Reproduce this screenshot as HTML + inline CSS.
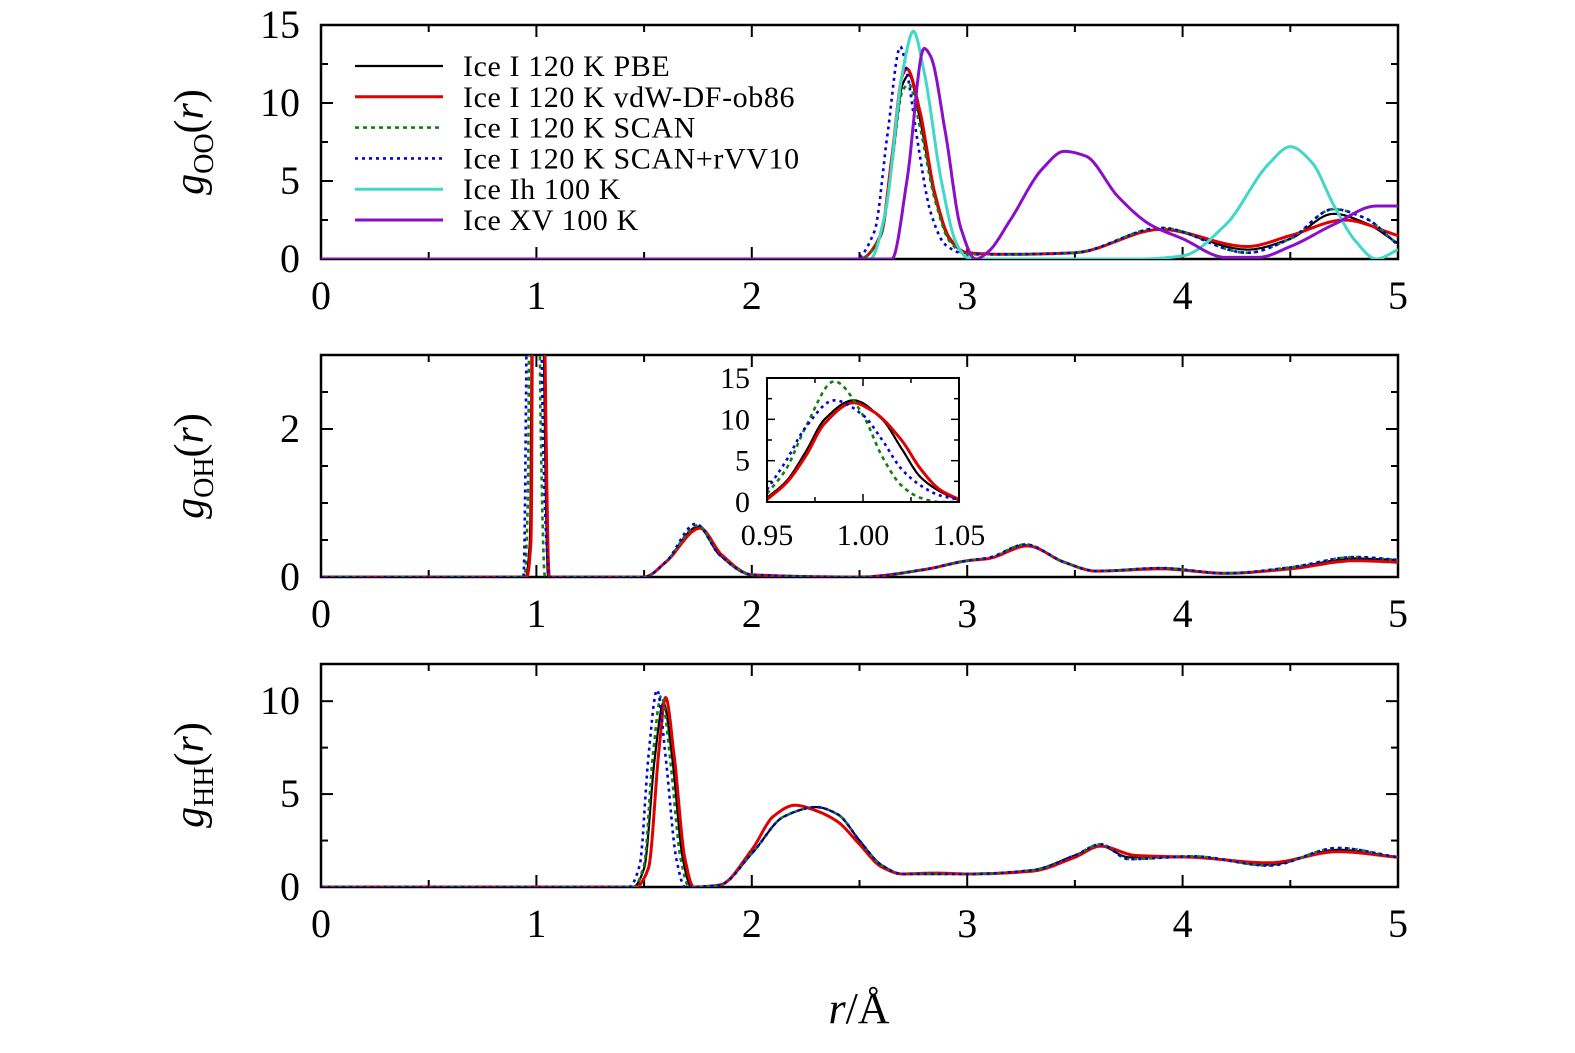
<!DOCTYPE html>
<html><head><meta charset="utf-8"><style>
body{margin:0;background:#fff}
svg{display:block;font-family:"Liberation Serif",serif}
</style></head><body>
<svg id="chart" width="1575" height="1053" viewBox="0 0 1575 1053">
<defs>
<clipPath id="c1"><rect x="321" y="25" width="1077" height="234"/></clipPath>
<clipPath id="c2"><rect x="321" y="355" width="1077" height="222"/></clipPath>
<clipPath id="c3"><rect x="321" y="664" width="1077" height="223"/></clipPath>
<clipPath id="c4"><rect x="767" y="378" width="192" height="124"/></clipPath>
</defs>
<g id="layer"></g>
</svg>
<script>
// ---- data ----
const seriesNames = ["Ice I 120 K PBE","Ice I 120 K vdW-DF-ob86","Ice I 120 K SCAN","Ice I 120 K SCAN+rVV10","Ice Ih 100 K","Ice XV 100 K"];
const xTicks = [0,1,2,3,4,5];
const ooTicks = [0,5,10,15];
const ohTicks = [0,2];
const hhTicks = [0,5,10];
const insetXTicks = [0.95,1.00,1.05];
const insetXLabels = ["0.95","1.00","1.05"];
const insetYTicks = [0,5,10,15];

const ooPBE = [[0,0],[2.5,0],[2.6,1.5],[2.65,6],[2.7,11.2],[2.73,11.8],[2.78,9],[2.85,4],[2.92,1.2],[3.0,0.4],[3.2,0.3],[3.5,0.4],[3.9,1.9],[4.3,0.6],[4.5,1.3],[4.7,2.9],[4.85,2.3],[5,1.0]];
const ooVDW = [[0,0],[2.5,0],[2.6,1.6],[2.65,6.5],[2.7,11.8],[2.72,12.2],[2.78,9.5],[2.85,4.2],[2.92,1.3],[3.0,0.4],[3.2,0.3],[3.5,0.4],[3.9,1.9],[4.3,0.8],[4.5,1.5],[4.75,2.5],[5,1.5]];
const ooSCAN = [[0,0],[2.5,0],[2.6,1.5],[2.65,6],[2.7,10.8],[2.73,11.2],[2.78,8.5],[2.85,3.8],[2.92,1.1],[3.0,0.3],[3.2,0.3],[3.5,0.4],[3.9,2.0],[4.3,0.4],[4.5,1.3],[4.7,3.2],[4.85,2.6],[5,0.9]];
const ooRVV = [[0,0],[2.48,0],[2.57,1.8],[2.63,8],[2.69,13.6],[2.72,12],[2.77,7.5],[2.83,3],[2.9,0.9],[3.0,0.3],[3.2,0.3],[3.5,0.4],[3.9,2.0],[4.3,0.4],[4.5,1.3],[4.7,3.2],[4.85,2.6],[5,0.9]];
const ooIh = [[0,0],[2.55,0],[2.62,3],[2.7,12],[2.75,14.6],[2.8,12],[2.88,5],[2.95,1],[3.0,0.1],[3.05,0],[3.8,0],[4.0,0.2],[4.2,2.2],[4.4,6.1],[4.5,7.2],[4.6,6.2],[4.7,3.5],[4.8,1.2],[4.9,0],[5,0.6]];
const ooXV = [[0,0],[2.65,0],[2.72,5],[2.8,13.5],[2.83,13],[2.9,8],[2.97,2],[3.04,0],[3.1,0.5],[3.2,2.5],[3.35,5.8],[3.45,6.9],[3.55,6.6],[3.7,4],[3.85,2.2],[4.0,1.3],[4.2,0.1],[4.35,0.1],[4.5,0.8],[4.7,2.2],[4.9,3.4],[5,3.4]];

const ohPBE = [[0,0],[0.95,0],[0.97,0.5],[0.99,10],[1.0,12],[1.02,10],[1.035,3],[1.055,0],[1.5,0],[1.6,0.2],[1.75,0.68],[1.85,0.3],[2.0,0.03],[2.5,0],[2.8,0.1],[3.0,0.22],[3.1,0.25],[3.27,0.43],[3.45,0.2],[3.6,0.08],[3.9,0.12],[4.2,0.05],[4.5,0.12],[4.8,0.25],[5,0.23]];
const ohVDW = [[0,0],[0.955,0],[0.975,0.5],[0.99,9.5],[1.0,12],[1.02,10.5],[1.04,3],[1.06,0],[1.5,0],[1.6,0.2],[1.76,0.66],[1.86,0.3],[2.0,0.03],[2.5,0],[2.8,0.1],[3.0,0.22],[3.1,0.25],[3.28,0.42],[3.45,0.2],[3.6,0.08],[3.9,0.11],[4.2,0.05],[4.5,0.11],[4.8,0.22],[5,0.2]];
const ohSCAN = [[0,0],[0.945,0],[0.96,1],[0.985,14.6],[1.0,10.5],[1.02,2],[1.04,0],[1.5,0],[1.6,0.2],[1.75,0.7],[1.85,0.3],[2.0,0.03],[2.5,0],[2.8,0.1],[3.0,0.22],[3.1,0.26],[3.27,0.44],[3.45,0.2],[3.6,0.08],[3.9,0.12],[4.2,0.05],[4.5,0.13],[4.8,0.27],[5,0.23]];
const ohRVV = [[0,0],[0.94,0],[0.96,5],[0.985,12.3],[1.01,7.5],[1.03,2],[1.05,0.3],[1.06,0],[1.5,0],[1.6,0.2],[1.74,0.72],[1.85,0.3],[2.0,0.03],[2.5,0],[2.8,0.1],[3.0,0.22],[3.1,0.26],[3.27,0.44],[3.45,0.2],[3.6,0.08],[3.9,0.12],[4.2,0.05],[4.5,0.13],[4.8,0.27],[5,0.23]];

const inPBE = [[0.95,0.5],[0.96,2.5],[0.97,6],[0.98,10],[0.995,12.3],[1.01,10],[1.02,6.5],[1.03,3],[1.04,1.3],[1.05,0.2]];
const inVDW = [[0.95,0.3],[0.96,2.3],[0.97,5.5],[0.98,9.5],[0.995,12.0],[1.005,11],[1.02,7.5],[1.03,4],[1.04,1.5],[1.05,0.3]];
const inSCAN = [[0.95,1],[0.96,4],[0.97,9],[0.985,14.6],[1.0,10.5],[1.01,5.5],[1.02,2],[1.03,0.5],[1.04,0],[1.05,0]];
const inRVV = [[0.95,1.5],[0.96,5],[0.97,9],[0.985,12.3],[1.0,10.5],[1.01,7.5],[1.02,4],[1.03,2],[1.04,0.8],[1.05,0.3]];

const hhPBE = [[0,0],[1.45,0],[1.5,1],[1.55,7],[1.59,9.9],[1.63,7],[1.68,1.5],[1.72,0],[1.85,0.1],[2.0,1.8],[2.15,3.8],[2.3,4.3],[2.4,3.9],[2.5,2.5],[2.6,1.2],[2.7,0.7],[3.0,0.7],[3.3,0.9],[3.5,1.7],[3.62,2.2],[3.75,1.6],[4.05,1.6],[4.4,1.2],[4.72,2.0],[5,1.6]];
const hhVDW = [[0,0],[1.46,0],[1.52,1],[1.57,7.5],[1.6,10.2],[1.64,7],[1.69,1.5],[1.73,0],[1.85,0.1],[2.0,2.0],[2.1,3.8],[2.2,4.4],[2.3,4.1],[2.4,3.5],[2.5,2.3],[2.6,1.1],[2.7,0.7],[2.85,0.75],[3.0,0.7],[3.3,0.85],[3.5,1.6],[3.62,2.2],[3.78,1.7],[4.05,1.6],[4.4,1.3],[4.72,1.9],[5,1.6]];
const hhSCAN = [[0,0],[1.45,0],[1.5,1.2],[1.54,7],[1.58,10.3],[1.62,7],[1.67,1.5],[1.71,0],[1.85,0.1],[2.0,1.8],[2.15,3.8],[2.3,4.3],[2.4,3.9],[2.5,2.5],[2.6,1.2],[2.7,0.7],[3.0,0.7],[3.3,0.9],[3.5,1.7],[3.62,2.3],[3.75,1.5],[4.05,1.65],[4.4,1.15],[4.72,2.1],[5,1.6]];
const hhRVV = [[0,0],[1.43,0],[1.48,1.2],[1.52,7],[1.56,10.6],[1.6,7],[1.65,1.5],[1.69,0],[1.85,0.1],[2.0,1.8],[2.15,3.8],[2.3,4.3],[2.4,3.9],[2.5,2.5],[2.6,1.2],[2.7,0.7],[3.0,0.7],[3.3,0.9],[3.5,1.7],[3.62,2.3],[3.75,1.5],[4.05,1.65],[4.4,1.15],[4.72,2.1],[5,1.6]];

// ---- rendering ----
const NS="http://www.w3.org/2000/svg";
const layer=document.getElementById('layer');
function mk(t,a,p){const e=document.createElementNS(NS,t);for(const k in a)e.setAttribute(k,a[k]);(p||layer).appendChild(e);return e;}
const X0=321,X1=1398;
const xs=r=>X0+(X1-X0)*r/5;
const styles=[
 {c:"#000",w:2.2,d:null},{c:"#e00000",w:3,d:null},{c:"#108010",w:2.6,d:"4 4"},{c:"#0000e0",w:2.6,d:"3 4"},{c:"#40d8c8",w:3,d:null},{c:"#8a10c8",w:3,d:null}];
// monotone cubic (Fritsch-Carlson) in x
function pathD(pts,fx,fy){
 const n=pts.length,x=pts.map(p=>p[0]),y=pts.map(p=>p[1]);
 const dl=[],m=new Array(n);
 for(let i=0;i<n-1;i++)dl.push((y[i+1]-y[i])/(x[i+1]-x[i]));
 m[0]=dl[0];m[n-1]=dl[n-2];
 for(let i=1;i<n-1;i++){ if(dl[i-1]*dl[i]<=0)m[i]=0; else {const h0=x[i]-x[i-1],h1=x[i+1]-x[i];
   m[i]=3*(h0+h1)/((2*h1+h0)/dl[i-1]+(h1+2*h0)/dl[i]);}}
 let d="M"+fx(x[0]).toFixed(1)+","+fy(y[0]).toFixed(1);
 for(let i=0;i<n-1;i++){const h=x[i+1]-x[i];
  for(let k=1;k<=12;k++){const t=k/12,t2=t*t,t3=t2*t;
   const v=(2*t3-3*t2+1)*y[i]+(t3-2*t2+t)*h*m[i]+(-2*t3+3*t2)*y[i+1]+(t3-t2)*h*m[i+1];
   d+=" L"+fx(x[i]+t*h).toFixed(1)+","+fy(v).toFixed(1);}}
 return d;
}
function line(pts,si,fx,fy,clip,name){
 const s=styles[si];
 const e=mk('path',{d:pathD(pts,fx,fy),fill:"none",stroke:s.c,"stroke-width":s.w,"clip-path":"url(#"+clip+")","stroke-linejoin":"round"});
 if(s.d)e.setAttribute('stroke-dasharray',s.d);
 
 
}
function axes(top,bot,ymax,yticks,yminor,panel){
 const ys=g=>bot-(bot-top)*g/ymax;
 const fr=mk('rect',{x:X0,y:top,width:X1-X0,height:bot-top,fill:"none",stroke:"#000","stroke-width":2.5});
 
 
 for(let r=0;r<=5;r+=0.5){
  const L=Number.isInteger(r)?12:7;const x=xs(r);
  mk('line',{x1:x,x2:x,y1:bot,y2:bot-L,stroke:"#000","stroke-width":2});
  mk('line',{x1:x,x2:x,y1:top,y2:top+L,stroke:"#000","stroke-width":2});
 }
 xTicks.forEach(v=>{const t=mk('text',{x:xs(v),y:bot+50,"text-anchor":"middle","font-size":40});t.textContent=v;
  
  });
 for(let g=0;g<=ymax+1e-9;g+=yminor){
  const maj=yticks.some(v=>Math.abs(v-g)<1e-9);const L=maj?12:7;const y=ys(g);
  mk('line',{x1:X0,x2:X0+L,y1:y,y2:y,stroke:"#000","stroke-width":2});
  mk('line',{x1:X1,x2:X1-L,y1:y,y2:y,stroke:"#000","stroke-width":2});
 }
 yticks.forEach(v=>{const t=mk('text',{x:300,y:ys(v)+13,"text-anchor":"end","font-size":40});t.textContent=v;
  
  });
 return ys;
}
function ylabel(cy,sub,name){
 const t=mk('text',{transform:"translate(203,"+cy+") rotate(-90)","text-anchor":"middle","font-size":42});
 t.innerHTML='<tspan font-style="italic">g</tspan><tspan font-size="28" dy="10">'+sub+'</tspan><tspan dy="-10">(</tspan><tspan font-style="italic">r</tspan><tspan>)</tspan>';
 
 
}
// Panel 1
const y1=axes(25,259,15,ooTicks,2.5,'oo-panel');
[ooPBE,ooVDW,ooSCAN,ooRVV,ooIh,ooXV].forEach((s,i)=>line(s,i,xs,y1,'c1','oo-series-'+i));
ylabel(142,'OO','y-axis-title-goo');
// legend
seriesNames.forEach((n,i)=>{const y=66+i*30.8;const s=styles[i];
 const l=mk('line',{x1:355,x2:443,y1:y,y2:y,stroke:s.c,"stroke-width":s.w});
 if(s.d)l.setAttribute('stroke-dasharray',s.d);
 
 
 const t=mk('text',{x:463,y:y+10,"font-size":30,"letter-spacing":"0.6"});t.textContent=n;
 
 
});
// Panel 2
const y2=axes(355,577,3,ohTicks,0.5,'oh-panel');
[ohPBE,ohVDW,ohSCAN,ohRVV].forEach((s,i)=>line(s,i,xs,y2,'c2','oh-series-'+i));
ylabel(466,'OH','y-axis-title-goh');
// inset
const ix=r=>767+192*(r-0.95)/0.1, iy=g=>502-124*g/15;
mk('rect',{x:767,y:378,width:192,height:124,fill:"#fff",stroke:"#000","stroke-width":2});
[inPBE,inVDW,inSCAN,inRVV].forEach((s,i)=>line(s,i,ix,iy,'c4','inset-series-'+i));
for(let r=0.95;r<=1.0501;r+=0.025){const x=ix(r);const L=Math.abs((r-0.95)/0.05-Math.round((r-0.95)/0.05))<1e-6?8:5;
 mk('line',{x1:x,x2:x,y1:502,y2:502-L,stroke:"#000","stroke-width":1.5});mk('line',{x1:x,x2:x,y1:378,y2:378+L,stroke:"#000","stroke-width":1.5});}
for(let g=0;g<=15;g+=2.5){const y=iy(g);const L=g%5===0?8:5;
 mk('line',{x1:767,x2:767+L,y1:y,y2:y,stroke:"#000","stroke-width":1.5});mk('line',{x1:959,x2:959-L,y1:y,y2:y,stroke:"#000","stroke-width":1.5});}
mk('rect',{x:767,y:378,width:192,height:124,fill:"none",stroke:"#000","stroke-width":2});
insetXTicks.forEach((v,i)=>{const t=mk('text',{x:ix(v),y:545,"text-anchor":"middle","font-size":30});t.textContent=insetXLabels[i];
 
 });
insetYTicks.forEach(v=>{const t=mk('text',{x:750,y:iy(v)+10,"text-anchor":"end","font-size":30});t.textContent=v;
 
 });
// Panel 3
const y3=axes(664,887,12,hhTicks,2.5,'hh-panel');
[hhPBE,hhVDW,hhSCAN,hhRVV].forEach((s,i)=>line(s,i,xs,y3,'c3','hh-series-'+i));
ylabel(775,'HH','y-axis-title-ghh');
// x-axis title
const xt=mk('text',{x:859,y:1023,"text-anchor":"middle","font-size":44});
xt.innerHTML='<tspan font-style="italic">r</tspan>/Å';


</script>
</body></html>
